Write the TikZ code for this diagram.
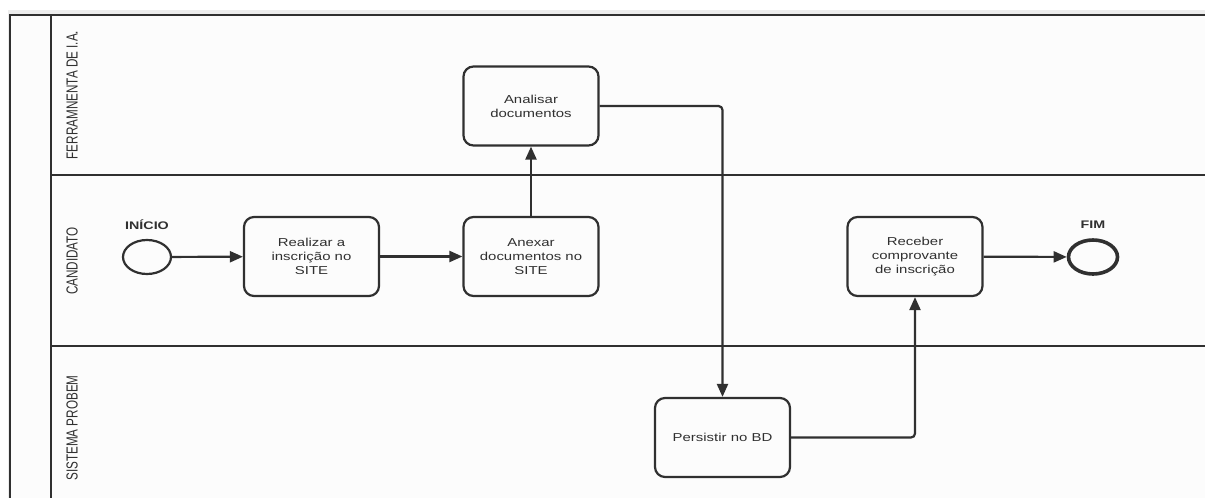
\documentclass[tikz,border=0pt]{standalone}
\usepackage{fontspec}
\setmainfont{Liberation Sans}
\newfontfamily\boxfont[FakeStretch=1.3]{Liberation Sans}
\newfontfamily\lanefont[FakeStretch=0.73]{Liberation Sans}
\usetikzlibrary{arrows.meta}
\usetikzlibrary{shapes.geometric}
\definecolor{linegray}{HTML}{303030}
\definecolor{shadowgray}{HTML}{EDEDED}
\definecolor{poolwhite}{HTML}{FCFCFC}
\tikzset{task/.style={draw=linegray,line width=2.2pt,rounded corners=10pt,
        minimum width=135pt,minimum height=79pt,align=center,text=linegray,
        font=\boxfont\fontsize{11.5}{14}\selectfont},
    event/.style={draw=linegray,ellipse,line width=2.2pt,minimum width=48pt,
        minimum height=34pt,inner sep=0pt},
    eventlabel/.style={text=linegray,font=\boxfont\bfseries\fontsize{11}{11}\selectfont},
    flow/.style={draw=linegray,line width=2.2pt,->,rounded corners=4pt},
    lane/.style={draw=linegray,line width=2.4pt},
    lanelabel/.style={rotate=90,text=linegray,font=\lanefont\fontsize{16}{16}\selectfont}}
\begin{document}
\begin{tikzpicture}[x=1pt,y=-1pt,>={Triangle[length=13pt,width=11pt]}]
      \useasboundingbox (0,0) rectangle (1205,498);
      % pool
      \fill[shadowgray] (8,10) rectangle (1205,498);
      \fill[poolwhite] (10,15) rectangle (1205,498);
      \draw[lane] (10,498) -- (10,15) -- (1205,15);
      \draw[lane] (51,15) -- (51,498);
      \draw[lane] (51,175) -- (1205,175);
      \draw[lane] (51,346) -- (1205,346);
      \node[lanelabel] (lane-ia) at (72,95) {FERRAMNENTA DE I.A.};
      \node[lanelabel] (lane-cand) at (72,261) {CANDIDATO};
      \node[lanelabel] (lane-sist) at (72,428) {SISTEMA PROBEM};
      % tasks and events
      \node[event] (inicio) at (147,257) {};
      \node[eventlabel] (inicio-label) at (147,225) {INÍCIO};
      \node[task] (realizar) at (311.5,256.5) {Realizar a\\inscrição no\\SITE};
      \node[task] (anexar) at (531,256.5) {Anexar\\documentos no\\SITE};
      \node[task] (analisar) at (531,106) {Analisar\\documentos};
      \node[task] (persistir) at (722.5,437.5) {Persistir no BD};
      \node[task] (receber) at (915,256.5) {Receber\\comprovante\\de inscrição};
      \node[event,line width=3.6pt,minimum width=49pt,minimum height=34pt] (fim) at (1093,257) {};
      \node[eventlabel] (fim-label) at (1093,225) {FIM};
      % flows
      \draw[flow] (inicio) -- (realizar);
      \draw[flow] (realizar) -- (anexar);
      \draw[flow] (anexar) -- (analisar);
      \draw[flow] (analisar.east) -| (persistir.north);
      \draw[flow] (persistir.east) -| (receber.south);
      \draw[flow] (receber) -- (fim);
\end{tikzpicture}
\end{document}
